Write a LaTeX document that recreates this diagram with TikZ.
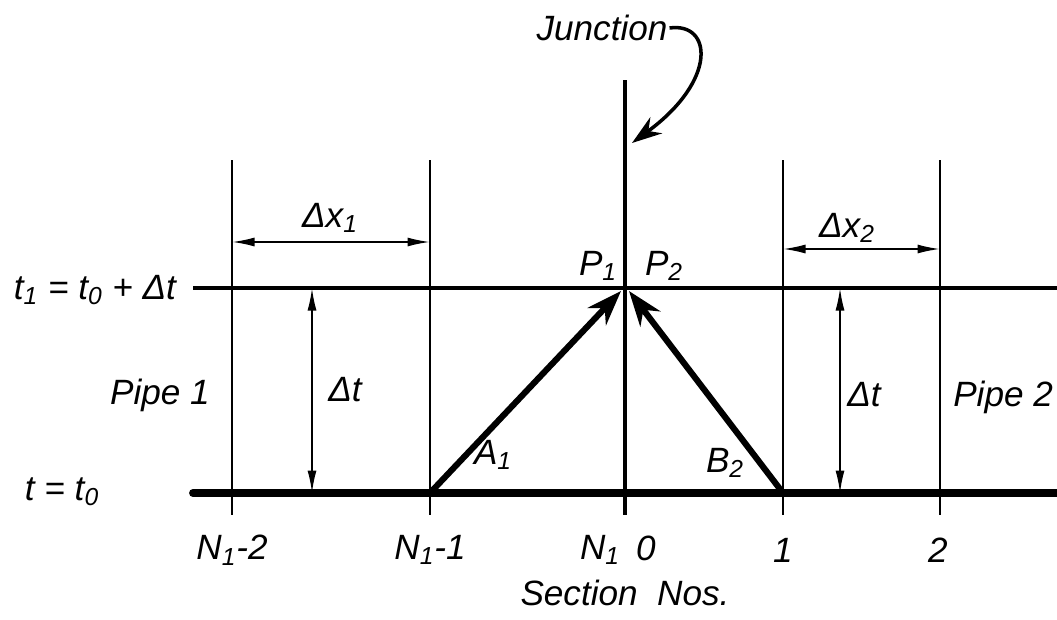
\documentclass[tikz,border=0pt]{standalone}
\usepackage{fontspec}
\setmainfont{Liberation Sans}
\usetikzlibrary{arrows.meta}

\tikzset{
  lbl/.style={font=\fontsize{20}{22}\selectfont\itshape, inner sep=1pt},
  gridline/.style={line width=1.2pt},
  timeline/.style={line width=1.8pt},
  baseline/.style={line width=4.5pt, line cap=round},
  dim/.style={line width=1pt, {Latex[length=4.5mm,width=1.8mm]}-{Latex[length=4.5mm,width=1.8mm]}},
  charline/.style={line width=3.5pt, -{Stealth[length=7mm,width=5mm]}},
  pointer/.style={line width=2pt, -{Stealth[length=6mm,width=4mm]}}
}

\begin{document}
\begin{tikzpicture}[x=0.02cm,y=-0.02cm]
  \useasboundingbox (0,0) rectangle (1057,619);
  % section lines
  \foreach \x in {232,430,783,940} \draw[gridline] (\x,160) -- (\x,515);
  \draw[line width=2.6pt] (625,80) -- (625,515);
  % time levels
  \draw[timeline] (193,288) -- (1057,288);
  \draw[baseline] (193,493) -- (1057,493);
  \node[lbl] (tone) at (95,290) {t\textsubscript{1} = t\textsubscript{0} + Δt};
  \node[lbl] (tzero) at (62,492) {t = t\textsubscript{0}};
  % spacings
  \draw[dim] (232,242) -- (430,242);
  \node[lbl] (dxone) at (330,218) {Δx\textsubscript{1}};
  \draw[dim] (783,249) -- (940,249);
  \node[lbl] (dxtwo) at (847,228) {Δx\textsubscript{2}};
  \draw[dim] (312,288) -- (312,493);
  \node[lbl] (dtone) at (345,390) {Δt};
  \draw[dim] (840,288) -- (840,493);
  \node[lbl] (dttwo) at (864,395) {Δt};
  \node[lbl] (pipeone) at (160,395) {Pipe 1};
  \node[lbl,anchor=east] (pipetwo) at (1055,397) {Pipe 2};
  % characteristics
  \coordinate (A) at (430,493);
  \coordinate (B) at (783,493);
  \coordinate (Pone) at (621,291);
  \coordinate (Ptwo) at (629,291);
  \draw[charline] (A) -- (Pone);
  \draw[charline] (B) -- (Ptwo);
  \node[lbl] (Alab) at (493,455) {A\textsubscript{1}};
  \node[lbl] (Blab) at (725,463) {B\textsubscript{2}};
  \node[lbl] (Ponelab) at (598,266) {P\textsubscript{1}};
  \node[lbl] (Ptwolab) at (664,266) {P\textsubscript{2}};
  % junction
  \node[lbl] (junc) at (602,28) {Junction};
  \coordinate (jtip) at (632,143);
  \draw[pointer] (junc.east) .. controls (712,22) and (718,80) .. (jtip);
  % section numbers
  \node[lbl] (sa) at (232,550) {N\textsubscript{1}-2};
  \node[lbl] (sb) at (430,550) {N\textsubscript{1}-1};
  \node[lbl] (sc) at (600,550) {N\textsubscript{1}};
  \node[lbl] (sd) at (646,548) {0};
  \node[lbl] (se) at (783,550) {1};
  \node[lbl] (sf) at (938,550) {2};
  \node[lbl] (snos) at (625,593) {Section\ \ Nos.};
\end{tikzpicture}
\end{document}
